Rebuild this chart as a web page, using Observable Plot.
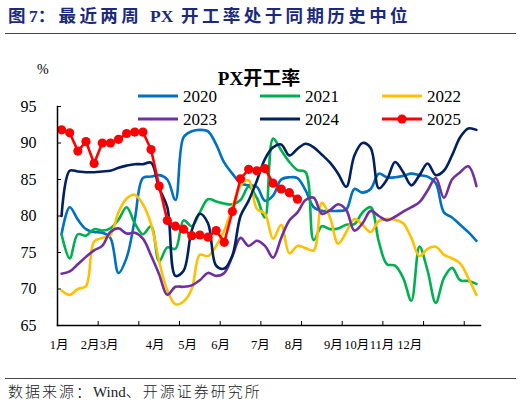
<!DOCTYPE html>
<html><head><meta charset="utf-8">
<script src="https://cdn.jsdelivr.net/npm/d3@7"></script>
<script src="https://cdn.jsdelivr.net/npm/@observablehq/plot@0.6"></script>
<style>
body{margin:0;background:#fff;}
#wrap{position:relative;width:522px;height:408px;overflow:hidden;font-family:'Liberation Serif','Noto Sans CJK SC',serif;color:#000;}
.abs{position:absolute;white-space:nowrap;line-height:1;}
.lat{letter-spacing:0;}
</style></head><body><div id="wrap"></div>
<script>
// ---- data ----
const years = ["2020","2021","2022","2023","2024","2025"];
const colors = ["#0070C0","#00B050","#FFC000","#7030A0","#002060","#FF0000"];
const s2020 = [77.5,81.2,79.5,78.2,77.8,77.7,77.0,72.2,74.3,79.5, 85.2,85.4,85.6,85.0,82.2,90.8,91.6,91.8,91.6,89.8, 87.3,85.8,84.5,84.2,84.0,82.1,82.8,85.0,85.3,85.2, 83.5,81.2,80.7,80.7,80.7,80.9,83.7,83.2,83.7,85.8, 85.3,85.3,85.5,85.8,85.6,85.4,84.5,80.5,79.8,78.8, 77.8,76.6];
const s2021 = [77.5,74.2,77.5,77.3,78.2,78.0,78.3,79.5,81.2,79.0, 77.5,78.6,73.8,75.7,75.5,79.4,78.6,80.5,82.3,82.0, 81.7,81.6,82.2,84.0,82.5,79.8,90.6,89.0,87.4,86.3, 86.0,76.7,78.6,78.2,78.3,78.8,78.9,80.5,81.2,76.5, 73.4,73.2,71.5,68.4,75.8,72.5,68.1,71.5,72.9,71.2, 71.1,70.7];
const s2022 = [69.8,69.2,70.0,70.4,76.5,77.0,77.4,80.5,82.4,82.9, 81.6,78.9,73.8,69.8,67.9,68.3,70.0,74.7,74.5,75.9, 78.0,81.2,84.2,84.9,81.0,80.3,76.9,78.8,74.9,75.9, 75.6,75.3,81.8,79.8,76.2,77.8,79.6,78.8,77.8,79.3, 79.6,79.5,79.0,77.0,74.5,75.5,75.8,74.7,74.2,73.5, 71.5,69.2];
const s2023 = [72.1,72.4,73.4,74.4,75.3,75.9,77.8,78.3,77.6,77.7, 76.9,74.6,72.0,69.2,70.3,70.3,70.5,71.2,72.2,71.8, 72.2,74.5,77.0,75.9,76.6,75.9,74.3,77.0,79.4,80.5, 82.2,82.5,80.3,80.8,81.6,80.8,78.0,79.0,80.7,80.0, 79.4,79.9,80.6,81.2,81.9,83.5,85.2,82.5,85.0,86.0, 86.8,84.1];
const s2024 = [80.0,86.2,86.1,86.0,86.0,86.1,86.2,86.6,86.9,87.1, 87.1,87.3,83.8,81.2,71.8,72.5,78.0,80.3,79.0,73.2, 72.8,74.6,80.0,82.1,84.8,87.8,89.4,89.8,88.3,89.2, 89.9,89.4,88.4,87.3,85.8,84.0,88.3,90.0,89.3,83.8, 85.0,87.4,86.0,84.2,85.6,87.2,85.6,86.2,88.3,90.8, 92.0,91.8];
const s2025 = [91.8,91.4,88.9,90.2,87.2,90.0,90.0,90.5,91.3,91.5, 91.5,89.1,84.1,79.4,78.6,78.2,77.3,77.4,77.1,78.0, 76.4,80.6,85.1,86.4,86.2,86.5,84.5,83.7,83.2,82.3];
const yTicks = [65,70,75,80,85,90,95];
const monthLabels = ["1月","2月","3月","4月","5月","6月","7月","8月","9月","10月","11月","12月"];
const monthPos = [-0.3,3.5,5.85,11.5,15.5,19.55,24.45,28.6,33.4,36.3,39.4,42.8];
const xTickPos = [4.5,9.5,14.5,19.5,24.5,29.5,34.5,39.5,44.5,49.5];
const titleText = "图7：最近两周 PX 开工率处于同期历史中位";
const chartTitle = "PX开工率";
const sourceText = "数据来源：Wind、开源证券研究所";

const allSeries = [s2020,s2021,s2022,s2023,s2024,s2025];
const rows = allSeries.flatMap((s,k)=>s.map((v,i)=>({week:i, value:v, year:years[k]})));

// ---- layout ----
const W=522, H=408, mT=106, mB=83, mL=57, mR=42;
const PW=W-mL-mR, PH=H-mT-mB;
const wrap=document.getElementById("wrap");

const smooth = years.slice(0,5).map((y,k)=>Plot.line(rows.filter(d=>d.year===y),{x:"week",y:"value",stroke:colors[k],strokeWidth:2.6,curve:"catmull-rom"}));
const red = rows.filter(d=>d.year==="2025");

const chart = Plot.plot({
  width:W, height:H, marginTop:mT, marginBottom:mB, marginLeft:mL, marginRight:mR,
  x:{domain:[-0.5,51.5]},
  y:{domain:[65,95]},
  style:{fontFamily:"'Liberation Serif','Noto Sans CJK SC',serif", fontSize:"16px", color:"#000", background:"transparent", overflow:"visible"},
  marks:[
    ...smooth,
    Plot.line(red,{x:"week",y:"value",stroke:colors[5],strokeWidth:2.6}),
    Plot.dot(red,{x:"week",y:"value",r:4.6,fill:colors[5],stroke:null}),
    Plot.frame({anchor:"left",stroke:"#000",strokeWidth:1.5}),
    Plot.frame({anchor:"bottom",stroke:"#000",strokeWidth:1.5}),
    Plot.tickY(yTicks,{y:d=>d,insetRight:PW-4,stroke:"#000",strokeWidth:1}),
    Plot.tickX(xTickPos,{x:d=>d,insetTop:PH-4,stroke:"#000",strokeWidth:1}),
    Plot.axisY({ticks:yTicks,tickSize:0,tickPadding:21,fontSize:16,label:null}),
    Plot.axisX({ticks:[],label:null,tickSize:0}),
    Plot.text(monthLabels,{x:(d,i)=>monthPos[i],frameAnchor:"bottom",dy:23,fontSize:12.5,fill:"#000"})
  ]
});
chart.style.position="absolute"; chart.style.left="0px"; chart.style.top="0px";
wrap.appendChild(chart);

function addText(txt, x, y, css, anchor){
  const d=document.createElement("div");
  d.className="abs";
  txt.split(/([A-Za-z0-9]+)/).forEach(part=>{
    if(!part) return;
    const sp=document.createElement("span");
    sp.textContent=part;
    if(/^[A-Za-z0-9]+$/.test(part)) sp.className="lat";
    d.appendChild(sp);
  });
  d.style.left=x+"px"; d.style.top=y+"px";
  d.style.transform = anchor==="middle" ? "translate(-50%,-50%)" : "translate(0,-50%)";
  Object.assign(d.style, css);
  wrap.appendChild(d); return d;
}
function addRule(y){
  const d=document.createElement("div");
  d.style.cssText=`position:absolute;left:5px;width:511px;top:${y}px;height:1px;background:#444;`;
  wrap.appendChild(d);
}
addText(titleText, 8, 17, {fontSize:"17.5px",fontWeight:"bold",letterSpacing:"3.4px",color:"#1B2A7C"});
addRule(33);
addText("%", 37, 70, {fontSize:"14px"});
addText(chartTitle, 259, 78, {fontSize:"19px",fontWeight:"bold"}, "middle");
const legX=[138,260,382], legY=[95.7,119.3];
years.forEach((y,k)=>{
  const cx=legX[k%3], cy=legY[Math.floor(k/3)];
  const s=document.createElementNS("http://www.w3.org/2000/svg","svg");
  s.setAttribute("width",40); s.setAttribute("height",12);
  s.style.cssText=`position:absolute;left:${cx}px;top:${cy-6}px;`;
  s.innerHTML=`<line x1="0" x2="40" y1="6" y2="6" stroke="${colors[k]}" stroke-width="2.8"/>`+(k===5?`<circle cx="20" cy="6" r="4.6" fill="${colors[k]}"/>`:"");
  wrap.appendChild(s);
  addText(y, cx+45, cy, {fontSize:"17px"});
});
addRule(378);
addText(sourceText, 8, 392, {fontSize:"15px",letterSpacing:"2px",color:"#222",fontWeight:"300"});
</script></body></html>
